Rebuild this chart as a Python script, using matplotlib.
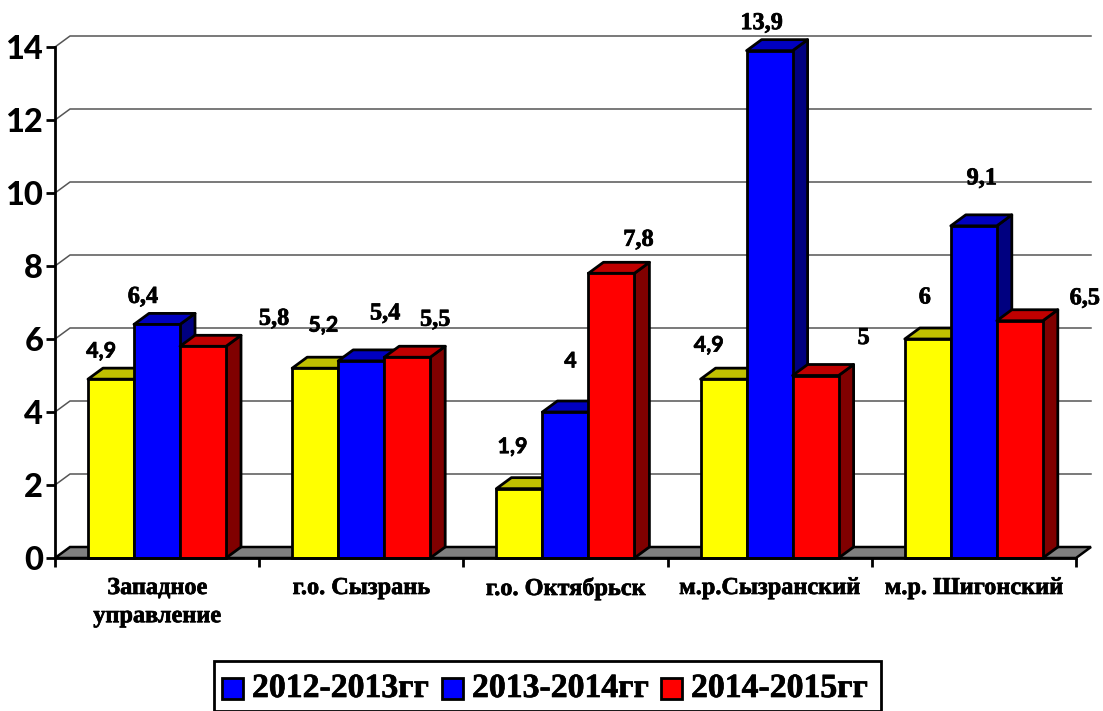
import matplotlib
matplotlib.use("Agg")
import numpy as np
import matplotlib.pyplot as plt
import matplotlib.patheffects as pe
from matplotlib.patches import Polygon, Rectangle

categories = ["Западное\nуправление", "г.о. Сызрань", "г.о. Октябрьск", "м.р.Сызранский", "м.р. Шигонский"]
series_names = ["2012-2013гг", "2013-2014гг", "2014-2015гг"]
values_a = [4.9, 5.2, 1.9, 4.9, 6]
values_b = [6.4, 5.4, 4, 13.9, 9.1]
values_c = [5.8, 5.5, 7.8, 5, 6.5]
yticks = [0, 2, 4, 6, 8, 10, 12, 14]

front_cols = ["#ffff00", "#0000ff", "#ff0000"]
top_cols = ["#c0c000", "#0000c0", "#c00000"]
side_cols = ["#808000", "#000080", "#800000"]
legend_cols = ["#0000ff", "#0000ff", "#ff0000"]

# the reference text is heavier than the bold fonts here
heavy = [pe.withStroke(linewidth=0.5, foreground="black")]

W, H = 1103, 711
fig = plt.figure(figsize=(W / 100, H / 100), dpi=100)
# axes frame is the front plane of the 3d box, 55..1076 px, 558..47 px
ax = fig.add_axes([55 / W, 1 - 558 / H, 1021 / W, 511 / H])
ax.set_xlim(0, 5)
ax.set_ylim(0, 14)
ax.patch.set_visible(False)

dx = 15 / 204.2
dy = 11 / (511 / 14)
bw = 46 / 204.2
off = 33 / 204.2

# back wall grid and floor
ax.add_patch(Polygon([(0, 0), (dx, dy), (5 + dx, dy), (5, 0)], fc="#808080", ec="black", lw=1.8, clip_on=False, zorder=1))
for t in yticks[1:]:
    ax.plot([0, dx, 5 + dx], [t, t + dy, t + dy], color="#555555", lw=1.1, clip_on=False, zorder=1)

for s, vals in enumerate([values_a, values_b, values_c]):
    for i, v in enumerate(vals):
        x0 = i + off + s * bw
        x1 = x0 + bw
        z = 3 + i + s * 0.1
        ax.add_patch(Polygon([(x1, 0), (x1 + dx, dy), (x1 + dx, v + dy), (x1, v)], fc=side_cols[s], ec="black", lw=2, joinstyle="round", clip_on=False, zorder=z))
        ax.add_patch(Polygon([(x0, v), (x0 + dx, v + dy), (x1 + dx, v + dy), (x1, v)], fc=top_cols[s], ec="black", lw=2, joinstyle="round", clip_on=False, zorder=z))
        ax.add_patch(Rectangle((x0, 0), bw, v, fc=front_cols[s], ec="black", lw=2, clip_on=False, zorder=z + 0.01))

# hand placed data labels in the original, offsets from bar centre top in px
off_a = [(-10, 28), (8, 43), (-7, 42), (-15, 34), (-3, 41)]
off_b = [(-14, 27), (24, 47), (5, 51), (-8, 27), (8, 47)]
off_c = [(71, 27), (28, 37), (27, 33), (48, 37), (65, 22)]
serif = "Liberation Serif"
sans = "Lato"
fam_a = [sans, sans, sans, sans, serif]
fam_b = [serif, serif, sans, serif, serif]
fam_c = [serif, serif, serif, serif, serif]
for s, (vals, offs, fams) in enumerate([(values_a, off_a, fam_a), (values_b, off_b, fam_b), (values_c, off_c, fam_c)]):
    for i in range(5):
        xc = i + off + (s + 0.5) * bw
        lab = f"{vals[i]:g}".replace(".", ",")
        ax.annotate(lab, (xc, vals[i]), xytext=offs[i], textcoords="offset pixels", ha="center", va="center",
                    family=fams[i], fontweight="bold", fontsize=17.5 if fams[i] == serif else 15.5,
                    color="black", zorder=30, annotation_clip=False, path_effects=heavy)

ax.set_xticks(range(6))
ax.set_xticklabels([])
ax.set_yticks(yticks)
ax.set_yticklabels([str(t) for t in yticks], family="Lato", fontweight="black", fontsize=23.5)
ax.tick_params(axis="y", length=6.5, width=2, pad=2, direction="out", color="black")
ax.tick_params(axis="x", length=6.5, width=2, direction="out", color="black")
for sp in ["top", "right"]:
    ax.spines[sp].set_visible(False)
ax.spines["left"].set_linewidth(2)
ax.spines["bottom"].set_linewidth(2)
ax.spines["left"].set_zorder(2)
ax.spines["bottom"].set_zorder(40)

# category labels in figure pixels
for i, c in enumerate(categories):
    fig.text((55 + 204.2 * (i + 0.5)) / W, 1 - 578 / H, c, ha="center", va="top", family="Liberation Serif",
             fontweight="bold", fontsize=17.5, linespacing=1.45, path_effects=heavy)

# legend
fig.add_artist(Rectangle((214 / W, 1 - 711 / H), 667 / W, 50 / H, transform=fig.transFigure, fc="white", ec="black", lw=2, clip_on=False))
lx = [222, 442, 661]
for x, n, c in zip(lx, series_names, legend_cols):
    fig.add_artist(Rectangle((x / W, 1 - 699 / H), 21 / W, 21 / H, transform=fig.transFigure, fc=c, ec="black", lw=2))
    fig.text((x + 30) / W, 1 - 688.5 / H, n, ha="left", va="center", family="Liberation Serif", fontweight="bold", fontsize=24.3, path_effects=heavy)

fig.savefig("out.png", dpi=100)
